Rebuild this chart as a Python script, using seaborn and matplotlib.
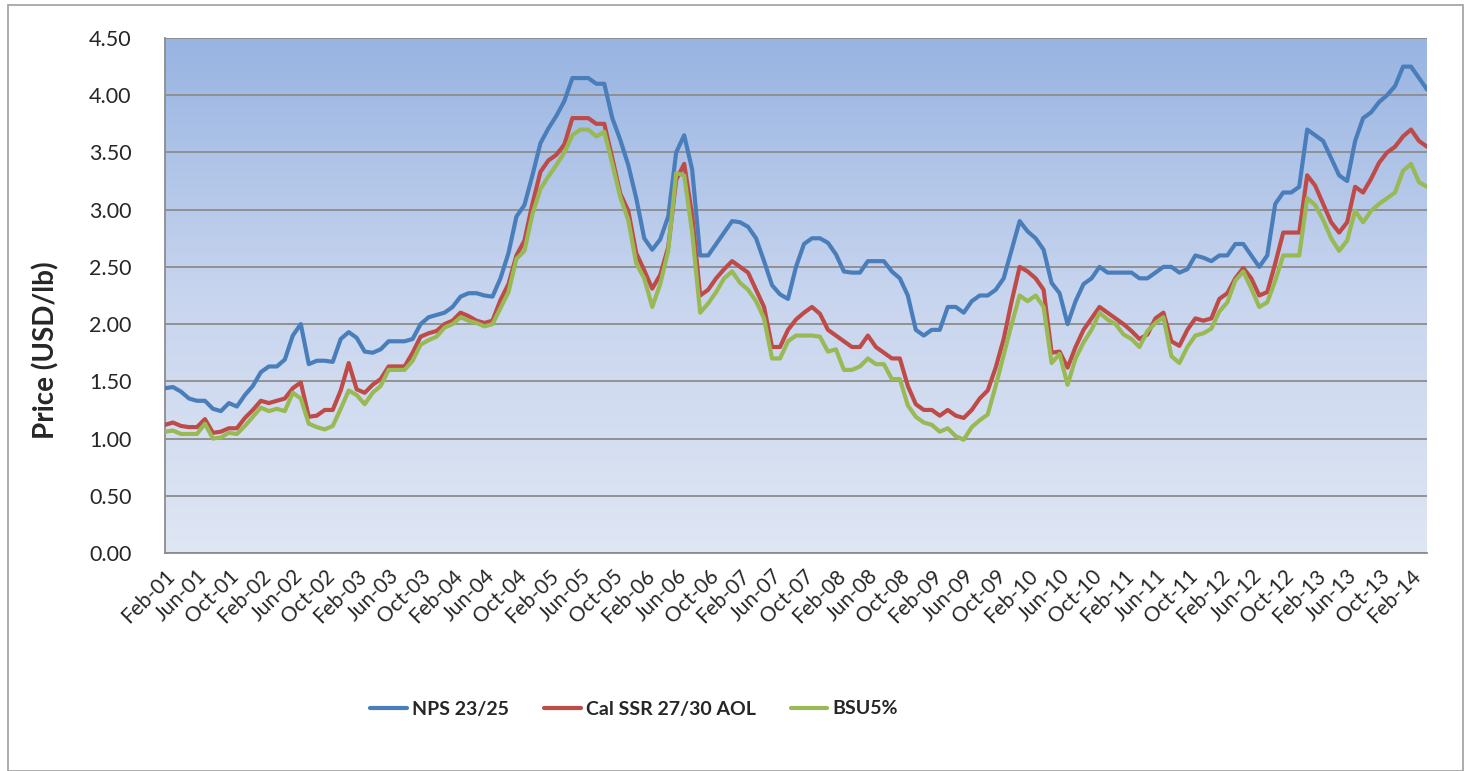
import numpy as np
import pandas as pd
import matplotlib
matplotlib.use("Agg")
import matplotlib.pyplot as plt
import seaborn as sns
from matplotlib.patches import Rectangle
from matplotlib.colors import LinearSegmentedColormap

# ---------------- data ----------------
months = pd.date_range("2001-02-01", "2014-04-01", freq="MS")
month_labels = [d.strftime("%b-%y") for d in months]

nps = [1.44, 1.45, 1.41, 1.35, 1.33, 1.33, 1.26, 1.24, 1.31, 1.28,
       1.38, 1.46, 1.58, 1.63, 1.63, 1.69, 1.90, 2.00, 1.65, 1.68,
       1.68, 1.67, 1.87, 1.93, 1.88, 1.76, 1.75, 1.78, 1.85, 1.85,
       1.85, 1.87, 2.00, 2.06, 2.08, 2.10, 2.15, 2.24, 2.27, 2.27,
       2.25, 2.24, 2.40, 2.62, 2.94, 3.04, 3.30, 3.58, 3.71, 3.82,
       3.95, 4.15, 4.15, 4.15, 4.10, 4.10, 3.80, 3.61, 3.39, 3.10,
       2.75, 2.65, 2.74, 2.94, 3.50, 3.65, 3.35, 2.60, 2.60, 2.70,
       2.80, 2.90, 2.89, 2.85, 2.75, 2.55, 2.34, 2.26, 2.22, 2.50,
       2.70, 2.75, 2.75, 2.71, 2.61, 2.46, 2.45, 2.45, 2.55, 2.55,
       2.55, 2.46, 2.40, 2.25, 1.95, 1.90, 1.95, 1.95, 2.15, 2.15,
       2.10, 2.20, 2.25, 2.25, 2.30, 2.40, 2.65, 2.90, 2.81, 2.75,
       2.65, 2.36, 2.27, 2.00, 2.20, 2.35, 2.40, 2.50, 2.45, 2.45,
       2.45, 2.45, 2.40, 2.40, 2.45, 2.50, 2.50, 2.45, 2.48, 2.60,
       2.58, 2.55, 2.60, 2.60, 2.70, 2.70, 2.60, 2.50, 2.60, 3.05,
       3.15, 3.15, 3.20, 3.70, 3.65, 3.60, 3.45, 3.30, 3.25, 3.60,
       3.80, 3.85, 3.94, 4.00, 4.08, 4.25, 4.25, 4.15, 4.05]

cal_ssr = [1.12, 1.14, 1.11, 1.10, 1.10, 1.17, 1.05, 1.06, 1.09, 1.09,
           1.18, 1.25, 1.33, 1.31, 1.33, 1.35, 1.44, 1.49, 1.19, 1.20,
           1.25, 1.25, 1.42, 1.66, 1.43, 1.40, 1.47, 1.52, 1.63, 1.63,
           1.63, 1.75, 1.89, 1.92, 1.94, 2.00, 2.03, 2.10, 2.07, 2.03,
           2.01, 2.03, 2.21, 2.35, 2.60, 2.73, 3.05, 3.33, 3.43, 3.48,
           3.57, 3.80, 3.80, 3.80, 3.75, 3.75, 3.45, 3.14, 2.99, 2.62,
           2.47, 2.31, 2.43, 2.67, 3.26, 3.40, 2.95, 2.25, 2.30, 2.40,
           2.48, 2.55, 2.50, 2.45, 2.30, 2.15, 1.80, 1.80, 1.95, 2.04,
           2.10, 2.15, 2.09, 1.95, 1.90, 1.85, 1.80, 1.80, 1.90, 1.80,
           1.75, 1.70, 1.70, 1.46, 1.30, 1.25, 1.25, 1.20, 1.25, 1.20,
           1.18, 1.25, 1.35, 1.42, 1.62, 1.87, 2.20, 2.50, 2.46, 2.40,
           2.30, 1.75, 1.76, 1.62, 1.80, 1.95, 2.05, 2.15, 2.10, 2.05,
           2.00, 1.94, 1.87, 1.91, 2.05, 2.10, 1.85, 1.81, 1.95, 2.05,
           2.03, 2.05, 2.22, 2.27, 2.40, 2.49, 2.40, 2.25, 2.28, 2.53,
           2.80, 2.80, 2.80, 3.30, 3.21, 3.05, 2.89, 2.80, 2.89, 3.20,
           3.15, 3.27, 3.41, 3.50, 3.55, 3.64, 3.70, 3.60, 3.55]

bsu5 = [1.06, 1.07, 1.04, 1.04, 1.04, 1.13, 1.00, 1.01, 1.05, 1.04,
        1.11, 1.19, 1.27, 1.24, 1.26, 1.24, 1.40, 1.35, 1.13, 1.10,
        1.08, 1.11, 1.26, 1.42, 1.38, 1.30, 1.40, 1.46, 1.60, 1.60,
        1.60, 1.68, 1.82, 1.86, 1.89, 1.97, 2.00, 2.06, 2.03, 2.01,
        1.98, 2.00, 2.14, 2.28, 2.57, 2.64, 2.96, 3.18, 3.29, 3.39,
        3.50, 3.65, 3.70, 3.70, 3.64, 3.68, 3.40, 3.11, 2.91, 2.53,
        2.40, 2.15, 2.35, 2.64, 3.32, 3.30, 2.80, 2.10, 2.18, 2.28,
        2.40, 2.46, 2.36, 2.30, 2.20, 2.05, 1.70, 1.70, 1.85, 1.90,
        1.90, 1.90, 1.89, 1.76, 1.78, 1.60, 1.60, 1.63, 1.70, 1.65,
        1.65, 1.52, 1.52, 1.29, 1.19, 1.14, 1.12, 1.06, 1.09, 1.02,
        0.99, 1.10, 1.16, 1.21, 1.46, 1.73, 2.00, 2.25, 2.20, 2.25,
        2.15, 1.66, 1.74, 1.47, 1.70, 1.84, 1.95, 2.10, 2.04, 2.00,
        1.91, 1.87, 1.80, 1.94, 2.01, 2.06, 1.72, 1.66, 1.80, 1.90,
        1.92, 1.96, 2.11, 2.19, 2.38, 2.46, 2.31, 2.15, 2.19, 2.38,
        2.60, 2.60, 2.60, 3.10, 3.04, 2.91, 2.75, 2.64, 2.73, 2.99,
        2.89, 2.99, 3.05, 3.10, 3.15, 3.34, 3.40, 3.24, 3.20]

series_names = ["NPS 23/25", "Cal SSR 27/30 AOL", "BSU5%"]
series_colors = ["#4A7EBB", "#BE4B48", "#98B954"]
y_ticks = [0.0, 0.5, 1.0, 1.5, 2.0, 2.5, 3.0, 3.5, 4.0, 4.5]
tick_step = 4

# ---------------- frame ----------------
n = len(months)
idx = np.arange(n)
df = pd.concat([
    pd.DataFrame({"idx": idx, "price": vals, "series": name})
    for name, vals in zip(series_names, [nps, cal_ssr, bsu5])
], ignore_index=True)

sns.set_theme(style="white")
plt.rcParams["font.family"] = ["Lato", "DejaVu Sans"]

W, H = 1468, 771
fig = plt.figure(figsize=(W / 100, H / 100), dpi=100)
fig.patch.set_facecolor("white")
ax = fig.add_axes([165 / W, 1 - 553 / H, (1427 - 165) / W, (553 - 38) / H])

# outer chart border
fig.patches.append(Rectangle((8 / W, 0.0), (1463 - 8) / W, 1 - 5 / H,
                             transform=fig.transFigure, fill=False,
                             edgecolor="#A6A6A6", linewidth=1.3))

# gradient plot background
cmap = LinearSegmentedColormap.from_list("bg", ["#DFE6F4", "#C8D5EE", "#98B4E2"])
grad = np.linspace(0, 1, 256).reshape(-1, 1)
ax.imshow(grad, extent=[0, 1, 0, 1], transform=ax.transAxes, origin="lower",
          cmap=cmap, aspect="auto", zorder=0)

sns.lineplot(data=df, x="idx", y="price", hue="series", hue_order=series_names,
             palette=series_colors, linewidth=3.0, ax=ax, legend=False,
             zorder=3)
for ln in ax.lines:
    ln.set_solid_joinstyle("round")
    ln.set_solid_capstyle("round")

ax.set_xlim(0, n - 1)
ax.set_ylim(0, 4.5)
ax.set_yticks(y_ticks)
ax.set_yticklabels([f"{v:.2f}" for v in y_ticks], fontsize=15.5)
xt = idx[::tick_step]
ax.set_xticks(xt)
ax.set_xticklabels([month_labels[i] for i in xt], rotation=45, ha="right",
                   va="top", rotation_mode="anchor", fontsize=15)
ax.tick_params(axis="x", length=0, pad=9)
ax.tick_params(axis="y", length=0, pad=24)

ax.grid(axis="y", color="#8C8C8C", linewidth=1.3, zorder=1)
ax.grid(axis="x", visible=False)
ax.set_axisbelow(True)
for s in ["top", "right"]:
    ax.spines[s].set_visible(False)
for s in ["left", "bottom"]:
    ax.spines[s].set_color("#8C8C8C")
    ax.spines[s].set_linewidth(1.3)

ax.set_xlabel("")
ax.set_ylabel("")
fig.text(46 / W, 1 - 350 / H, "Price (USD/lb)", rotation=90, ha="center",
         va="center", fontsize=20, fontweight="bold")

handles = [plt.Line2D([], [], color=c, linewidth=3.0, solid_capstyle="round")
           for c in series_colors]
leg = fig.legend(handles, series_names, loc="center", ncol=3,
                 bbox_to_anchor=(634 / W, 1 - 709 / H), frameon=False,
                 prop={"size": 14, "weight": "bold"},
                 handlelength=1.9, handletextpad=0.25, columnspacing=1.8)

fig.savefig("out.png", dpi=100, facecolor="white")
